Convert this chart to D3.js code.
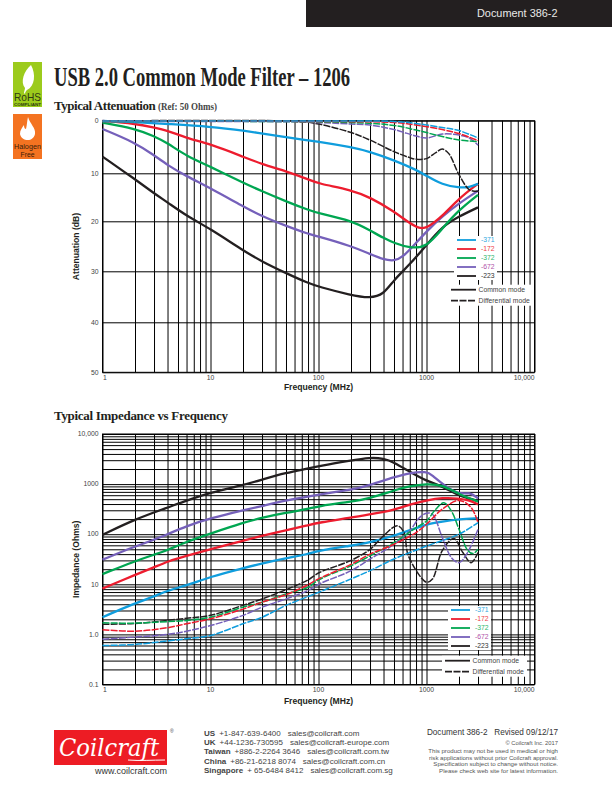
<!DOCTYPE html>
<html>
<head>
<meta charset="utf-8">
<script src="https://cdn.jsdelivr.net/npm/d3@7"></script>
<style>
html,body{margin:0;padding:0;background:#fff;}
svg{display:block;}
text{font-family:"Liberation Sans",Arial,sans-serif;}
.serif{font-family:"Liberation Serif",serif;font-weight:bold;fill:#231f20;}
</style>
</head>
<body>
<div id="page"></div>
<script>
// part numbers and colours, legend order
var parts = ['-371','-172','-372','-672','-223'];
var part_colors = ['#0f9ddd','#ed1c2e','#00a651','#7560ba','#231f20'];
var label_colors = ['#2fa8e0','#ee3a43','#2fb56b','#b04fa8','#333333'];
var mode_labels = ['Common mode','Differential mode'];

var freq_ticks = [1,10,100,1000,10000];
var freq_tick_labels = ['1','10','100','1000','10,000'];
var att_ticks = [0,10,20,30,40,50];
var imp_ticks = [0.1,1,10,100,1000,10000];
var imp_tick_labels = ['0.1','1.0','10','100','1000','10,000'];

// attenuation, common mode [MHz, dB]
var att_cm_371 = [[1,0],[2,0.2],[4,0.6],[10,1.1],[20,1.9],[50,3.2],[80,3.9],[100,4.1],[200,5.2],[300,6.1],[500,7.8],[800,9.7],[1000,10.9],[1400,12.7],[2000,13.3],[2500,13.2],[3000,12.5]];
var att_cm_172 = [[1,0],[2,0.5],[3,1.3],[4,1.9],[6,3.4],[10,4.6],[20,7.1],[30,8.6],[50,10],[80,11.6],[100,12.5],[200,13.7],[300,15.2],[500,18],[700,20.4],[860,21.4],[1000,21.4],[1400,19],[2000,15.4],[3000,12.5]];
var att_cm_372 = [[1,0.3],[2,1.5],[3,3],[4,4.4],[6,7],[10,9.1],[20,12.3],[30,14],[50,16],[80,17.7],[100,18.4],[200,19.8],[300,21.8],[400,23.3],[500,24.3],[700,25.3],[1000,25.2],[1400,21.4],[2000,17.7],[3000,14.7]];
var att_cm_672 = [[1,1.6],[2,4.3],[3,6.8],[4,8.8],[6,11],[10,13.4],[20,17],[30,19],[50,20.9],[80,22.5],[100,23],[200,24.9],[300,26.5],[400,27.6],[500,27.9],[600,27.2],[800,24.3],[1000,22],[1400,19],[2000,16.4],[3000,13.9]];
var att_cm_223 = [[1,7.1],[2,11.6],[3,14.4],[4,16.2],[6,18.9],[10,21.5],[20,25.8],[30,28],[50,30.3],[80,32.3],[100,33],[200,34.7],[300,35.3],[400,34.6],[500,31.6],[700,28.6],[1000,24.7],[1400,21],[2000,19],[3000,17.2]];

// attenuation, differential mode [MHz, dB]
var att_dm_371 = [[1,0],[100,0],[500,0.1],[800,0.5],[1400,1.3],[2000,1.9],[3000,3.4]];
var att_dm_172 = [[1,0],[100,0.1],[500,0.3],[800,0.8],[1400,1.7],[2000,2.5],[3000,3.9]];
var att_dm_372 = [[1,0.1],[200,0.3],[500,0.9],[800,1.8],[1400,3.1],[2000,3.8],[3000,4.1]];
var att_dm_672 = [[1,0.1],[68,0.2],[200,0.6],[300,0.8],[500,1.7],[800,3],[1000,3.4],[1400,2.6],[2000,2.8],[2500,3.4],[3000,4.8]];
var att_dm_223 = [[1,0],[68,0.1],[100,0.6],[200,2.3],[300,3.8],[500,6.1],[700,7.3],[800,7.6],[1000,7.5],[1220,6.3],[1400,5.6],[1610,6.5],[2000,10.7],[2500,13.7],[3000,14]];

// impedance, common mode [MHz, Ohms]
var imp_cm_371 = [[1,2.2],[2,4.2],[3,5.7],[4,7.5],[6,9.4],[10,14.2],[20,21],[30,26],[50,33],[80,40],[100,47],[200,59],[300,68],[500,93],[700,120],[1000,158],[1400,178],[2000,199],[3000,208]];
var imp_cm_172 = [[1,8.2],[2,15.5],[3,21.8],[4,28.6],[6,37],[10,50],[20,74],[30,93],[50,120],[80,151],[100,170],[200,214],[300,250],[500,304],[700,394],[1000,473],[1400,537],[2000,520],[2500,473],[3000,394]];
var imp_cm_372 = [[1,16],[2,29],[3,39],[4,48],[6,71],[10,103],[20,170],[30,214],[50,269],[80,316],[100,365],[200,447],[300,519],[500,748],[700,912],[1000,1010],[1400,977],[2000,623],[3000,447]];
var imp_cm_672 = [[1,31],[2,57],[3,77],[4,100],[6,146],[10,208],[20,300],[30,365],[50,473],[80,560],[100,623],[200,760],[300,955],[500,1380],[700,1680],[1000,1800],[1135,1500],[1400,1010],[2000,603],[2500,700],[3000,520]];
var imp_cm_223 = [[1,97],[2,199],[4,339],[6,473],[10,675],[20,955],[30,1230],[50,1680],[80,2040],[100,2280],[200,2960],[300,3400],[400,3250],[500,2740],[700,1760],[1000,1150],[1400,910],[2000,580],[2500,520],[3000,458]];

// impedance, differential mode [MHz, Ohms]
var imp_dm_371 = [[1,0.6],[2,0.63],[4,0.74],[6,0.82],[10,0.95],[20,1.63],[30,2.2],[50,3.8],[80,5.7],[100,6.9],[200,12.8],[300,18.7],[500,32],[1000,58],[2000,100],[3000,170]];
var imp_dm_172 = [[1,1.24],[2,1.16],[4,1.36],[6,1.63],[10,2.05],[20,3.2],[30,4.4],[50,6.2],[80,9.8],[100,12.8],[200,25],[300,40],[500,63],[800,108],[1000,158],[1400,316],[2000,473],[2590,340],[3000,170]];
var imp_dm_372 = [[1,1.7],[2,1.68],[4,1.8],[6,1.9],[10,2.2],[20,3.5],[30,4.4],[50,6.4],[80,8.7],[100,12.2],[200,23.5],[300,37],[500,68],[800,135],[1000,184],[1220,316],[1450,426],[1700,290],[2000,126],[2400,48],[2700,41],[3000,50]];
var imp_dm_672 = [[1,0.8],[2,0.885],[4,1],[6,1.16],[10,1.5],[20,2.4],[30,3.5],[50,5.1],[80,7.5],[100,10],[200,18.7],[300,32],[500,63],[700,117],[860,214],[1000,262],[1135,250],[1400,86],[1700,34],[2000,27],[2400,43],[3000,125]];
var imp_dm_223 = [[1,1.6],[2,1.65],[6,2.1],[10,2.4],[20,3.8],[30,5.1],[50,7.8],[80,12.2],[100,16.8],[200,30],[300,50],[400,93],[500,140],[550,146],[620,108],[680,37],[1000,11],[1135,12.7],[1400,47],[1790,82],[2170,43],[2590,27],[3000,43]];

var att_cm = [att_cm_371,att_cm_172,att_cm_372,att_cm_672,att_cm_223];
var att_dm = [att_dm_371,att_dm_172,att_dm_372,att_dm_672,att_dm_223];
var imp_cm = [imp_cm_371,imp_cm_172,imp_cm_372,imp_cm_672,imp_cm_223];
var imp_dm = [imp_dm_371,imp_dm_172,imp_dm_372,imp_dm_672,imp_dm_223];

var svg = d3.select('#page').append('svg').attr('width',612).attr('height',792);

function add_text(x,y,txt,size,fill,anchor,bold){
	return svg.append('text').attr('x',x).attr('y',y).text(txt)
		.style('font-size',size+'px').style('fill',fill)
		.style('text-anchor',anchor||'start').style('font-weight',bold?'bold':'normal');
}

function draw_grid(x,y,y_grid,y_ticks,y_labels,x_title_y,y_title,y_title_x){
	var left = x.range()[0], right = x.range()[1];
	var top = d3.min(y.range()), bottom = d3.max(y.range());

	var vgrid = d3.axisBottom(x).tickValues(x.ticks()).tickSize(bottom-top).tickFormat('');
	var hgrid = d3.axisLeft(y).tickValues(y_grid).tickSize(left-right).tickFormat('');
	svg.append('g').attr('transform','translate(0,'+top+')').call(vgrid)
		.call(function(g){g.select('.domain').remove();})
		.selectAll('line').attr('stroke','#000').attr('stroke-width',1);
	svg.append('g').attr('transform','translate('+left+',0)').call(hgrid)
		.call(function(g){g.select('.domain').remove();})
		.selectAll('line').attr('stroke','#000').attr('stroke-width',1);
	svg.append('rect').attr('x',left).attr('y',top).attr('width',right-left).attr('height',bottom-top)
		.attr('fill','none').attr('stroke','#000').attr('stroke-width',1);

	freq_ticks.forEach(function(f,i){
		var anchor = i==0 ? 'start' : (i==4 ? 'end' : 'middle');
		var px = i==0 ? x(f)+0.5 : x(f);
		add_text(px,bottom+7.5,freq_tick_labels[i],6.8,'#444',anchor);
	});
	y_ticks.forEach(function(v,i){
		add_text(left-4,y(v)+2.2,y_labels[i],6.8,'#444','end');
	});
	add_text((left+right)/2,x_title_y,'Frequency (MHz)',8.6,'#231f20','middle',true);
	var cy = (top+bottom)/2;
	add_text(0,0,y_title,8.6,'#231f20','middle',true)
		.attr('x',null).attr('y',null)
		.attr('transform','translate('+y_title_x+','+cy+') rotate(-90)');
}

function draw_curves(x,y,cm,dm){
	var line_cm = d3.line().x(function(d){return x(d[0]);}).y(function(d){return y(d[1]);}).curve(d3.curveBasis);
	var line_dm = d3.line().x(function(d){return x(d[0]);}).y(function(d){return y(d[1]);}).curve(d3.curveCatmullRom.alpha(0.5));
	[4,3,2,1,0].forEach(function(i){
		svg.append('path').datum(cm[i]).attr('d',line_cm).attr('fill','none')
			.attr('stroke',part_colors[i]).attr('stroke-width',2.3);
	});
	[4,3,2,1,0].forEach(function(i){
		svg.append('path').datum(dm[i]).attr('d',line_dm).attr('fill','none')
			.attr('stroke',part_colors[i]).attr('stroke-width',1.5).attr('stroke-dasharray','7,1.2');
	});
}

function draw_legend(sx,sy,mx,my){
	svg.append('rect').attr('x',sx-3).attr('y',sy-4).attr('width',43).attr('height',44).attr('fill','#fff');
	svg.append('rect').attr('x',mx-3).attr('y',my-5).attr('width',85).attr('height',21).attr('fill','#fff');
	parts.forEach(function(p,i){
		var ly = sy+i*9;
		svg.append('line').attr('x1',sx).attr('x2',sx+19).attr('y1',ly).attr('y2',ly)
			.attr('stroke',part_colors[i]).attr('stroke-width',1.8);
		add_text(sx+24,ly+2.3,p,6.8,label_colors[i]);
	});
	mode_labels.forEach(function(m,i){
		var ly = my+i*11;
		svg.append('line').attr('x1',mx).attr('x2',mx+25).attr('y1',ly).attr('y2',ly)
			.attr('stroke','#231f20').attr('stroke-width',1.8)
			.attr('stroke-dasharray',i==1?'7,1.5':null);
		add_text(mx+27.5,ly+2.3,m,6.8,'#444');
	});
}

// header band
svg.append('rect').attr('x',306).attr('y',0).attr('width',306).attr('height',27).attr('fill','#231f20');
add_text(477,17,'Document 386-2',10.9,'#e8e8e8');

// badges
svg.append('rect').attr('x',13).attr('y',62).attr('width',29).attr('height',45).attr('fill','#9ccb1c');
svg.append('path').attr('d','M31,65 C36,74 35,86 27,90 C26,91 25,92 25,94 L24,93 C24,91 25,90 25,88 C20,82 24,71 31,65 Z').attr('fill','#fff');
svg.append('text').attr('x',27.5).attr('y',101).text('RoHS').style('font-size','10.5px').style('fill','#2f3a12')
	.style('text-anchor','middle').attr('textLength',27).attr('lengthAdjust','spacingAndGlyphs');
svg.append('text').attr('x',27.5).attr('y',105.5).text('COMPLIANT').style('font-size','4px').style('fill','#2f3a12').style('font-weight','bold')
	.style('text-anchor','middle').attr('textLength',27).attr('lengthAdjust','spacingAndGlyphs');
svg.append('rect').attr('x',13).attr('y',114).attr('width',29).attr('height',45).attr('fill','#f47321');
svg.append('path').attr('d','M28,117 C30,124 36,128 35,134 C34,138 31,140 28,140 C24,140 21,138 20,134 C20,130 22,128 24,125 C24,128 25,129 26,129 C27,125 27,121 28,117 Z').attr('fill','#fff');
svg.append('text').attr('x',27.5).attr('y',148.5).text('Halogen').style('font-size','8px').style('fill','#3a1c08')
	.style('text-anchor','middle').attr('textLength',27).attr('lengthAdjust','spacingAndGlyphs');
svg.append('text').attr('x',27.5).attr('y',156.5).text('Free').style('font-size','8px').style('fill','#3a1c08')
	.style('text-anchor','middle').attr('textLength',14).attr('lengthAdjust','spacingAndGlyphs');

// headings
svg.append('text').attr('class','serif').attr('x',54).attr('y',85.5).text('USB 2.0 Common Mode Filter \u2013 1206')
	.style('font-size','27px').attr('textLength',296).attr('lengthAdjust','spacingAndGlyphs');
svg.append('text').attr('class','serif').attr('x',54).attr('y',110).text('Typical Attenuation')
	.style('font-size','13px').style('letter-spacing','-0.45px');
svg.append('text').attr('class','serif').attr('x',158).attr('y',110).text('(Ref: 50 Ohms)')
	.style('font-size','10.5px').style('fill','#444').attr('textLength',59).attr('lengthAdjust','spacingAndGlyphs');
svg.append('text').attr('class','serif').attr('x',54).attr('y',420).text('Typical Impedance vs Frequency')
	.style('font-size','13px').style('letter-spacing','-0.3px');

// attenuation chart, the printed 10 dB line sits a little low
var x_att = d3.scaleLog().domain([1,10000]).range([102.5,534.5]);
var y_att = d3.scaleLinear().domain([0,50]).range([121,372]);
var y_att_grid = d3.scaleLinear().domain(att_ticks).range([120.7,173.3,221.3,271.3,322.3,372.3]);
draw_grid(x_att,y_att_grid,att_ticks,att_ticks,att_ticks.map(String),390,'Attenuation (dB)',79);
draw_curves(x_att,y_att,att_cm,att_dm);
draw_legend(457,240,451,289.7);

// impedance chart
var x_imp = d3.scaleLog().domain([1,10000]).range([102.5,534.5]);
var y_imp = d3.scaleLog().domain([0.1,10000]).range([684.5,434]);
draw_grid(x_imp,y_imp,y_imp.ticks(),imp_ticks,imp_tick_labels,704,'Impedance (Ohms)',79);
draw_curves(x_imp,y_imp,imp_cm,imp_dm);
draw_legend(451,610,445,660.7);

// footer
svg.append('rect').attr('x',54).attr('y',730).attr('width',113).attr('height',35).attr('fill','#ed1c24');
svg.append('text').attr('x',109).attr('y',756).text('Coilcraft')
	.style('font-family','"DejaVu Serif",serif').style('font-style','italic').style('font-size','24px').style('fill','#fff')
	.style('text-anchor','middle').attr('textLength',100).attr('lengthAdjust','spacingAndGlyphs');
svg.append('path').attr('d','M128,760 C140,761 152,760 165,760').attr('fill','none').attr('stroke','#fff').attr('stroke-width',1);
add_text(170,733,'\u00ae',5,'#444');
add_text(167,773.5,'www.coilcraft.com',9,'#333','end');

var contact_names = ['US','UK','Taiwan','China','Singapore'];
var contact_phones = ['+1-847-639-6400','+44-1236-730595','+886-2-2264 3646','+86-21-6218 8074','+ 65-6484 8412'];
var contact_mails = ['sales@coilcraft.com','sales@coilcraft-europe.com','sales@coilcraft.com.tw','sales@coilcraft.com.cn','sales@coilcraft.com.sg'];
var contact_y = [736,745,754,764,773];
contact_names.forEach(function(n,i){
	var t = add_text(204,contact_y[i],'',8,'#444');
	t.append('tspan').text(n).style('font-weight','bold');
	t.append('tspan').attr('dx',4).text(contact_phones[i]);
	t.append('tspan').attr('dx',7).text(contact_mails[i]);
});
add_text(558,735,'Document 386-2   Revised 09/12/17',8.2,'#333','end').style('white-space','pre');
var fine_print = ['\u00a9 Coilcraft Inc. 2017','This product may not be used in medical or high','risk applications without prior Coilcraft approval.','Specification subject to change without notice.','Please check web site for latest information.'];
var fine_y = [745,753,759.5,765.5,772.5];
fine_print.forEach(function(s,i){
	add_text(558,fine_y[i],s,i==0?5.8:6.1,'#555','end');
});
</script>
</body>
</html>
